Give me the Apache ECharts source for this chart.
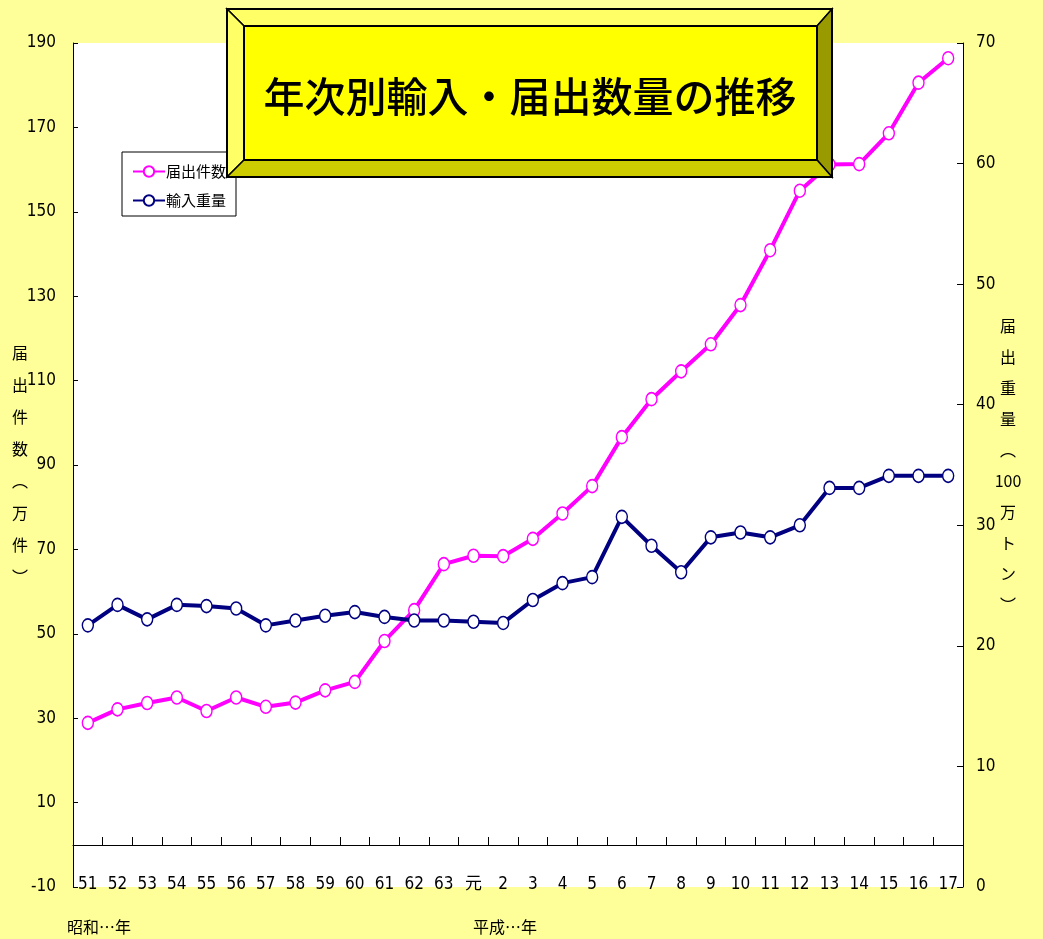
<!DOCTYPE html>
<html>
<head>
<meta charset="utf-8">
<script src="https://cdn.jsdelivr.net/npm/echarts@6/dist/echarts.min.js"></script>
<style>
html,body{margin:0;padding:0;background:#FFFF99;}
#chart{width:1043px;height:939px;}
</style>
</head>
<body>
<div id="chart"></div>
<script>
// ---- data ----
const years = ['51','52','53','54','55','56','57','58','59','60','61','62','63','元','2','3','4','5','6','7','8','9','10','11','12','13','14','15','16','17'];
const countName = '届出件数';
const weightName = '輸入重量';
// 届出件数 (万件)
const countValues = [28.9, 32.1, 33.6, 34.9, 31.7, 34.9, 32.7, 33.7, 36.6, 38.6, 48.3, 55.6, 66.5, 68.5, 68.4, 72.5, 78.5, 85.0, 96.6, 105.6, 112.2, 118.6, 127.9, 140.9, 155.0, 161.2, 161.3, 168.6, 180.6, 186.4];
// 輸入重量 (100万トン)
const weightValues = [21.7, 23.4, 22.2, 23.4, 23.3, 23.1, 21.7, 22.1, 22.5, 22.8, 22.4, 22.1, 22.1, 22.0, 21.9, 23.8, 25.2, 25.7, 30.7, 28.3, 26.1, 29.0, 29.4, 29.0, 30.0, 33.1, 33.1, 34.1, 34.1, 34.1];
const leftTicks = [-10, 10, 30, 50, 70, 90, 110, 130, 150, 170, 190];
const titleText = '年次別輸入・届出数量の推移';
const leftAxisName = '届\n出\n件\n数\n︵\n万\n件\n︶';
const rightAxisName = '届\n出\n重\n量\n︵\n100\n万\nト\nン\n︶';
const showaNote = '昭和…年';
const heiseiNote = '平成…年';

const NUM_FONT = "'Liberation Sans Narrow', 'DejaVu Sans Condensed', 'Noto Sans CJK JP', sans-serif";
const JP_FONT = "'Noto Sans CJK JP', sans-serif";

const chart = echarts.init(document.getElementById('chart'));

// layout
const gL = 73, gR = 963, gT = 43, gB = 887;
// title box geometry
const bx0 = 227, by0 = 9, bx1 = 832, by1 = 177;
const ix0 = 244, iy0 = 26, ix1 = 817, iy1 = 160;

const option = {
  backgroundColor: '#FFFF99',
  animation: false,
  grid: {
    left: gL, right: 1043 - gR, top: gT, bottom: 939 - gB,
    show: false
  },
  legend: {
    left: 122, top: 152,
    orient: 'vertical',
    backgroundColor: '#FFFFFF',
    borderColor: '#000000', borderWidth: 1,
    padding: [12, 10, 8, 10],
    itemWidth: 32, itemHeight: 13, itemGap: 14,
    textStyle: { fontFamily: JP_FONT, fontSize: 15, color: '#000', padding: [0, 0, 0, -4] },
    data: [countName, weightName]
  },
  xAxis: {
    type: 'category',
    data: years,
    boundaryGap: true,
    position: 'bottom',
    offset: -42,
    axisLine: { onZero: false, lineStyle: { color: '#000', width: 1 } },
    axisTick: { show: true, interval: 0, alignWithLabel: false, inside: true, length: 8, lineStyle: { color: '#000', width: 1 } },
    axisLabel: { interval: 0, margin: 31, color: '#000', fontFamily: NUM_FONT, fontSize: 17 }
  },
  yAxis: [
    {
      type: 'value', position: 'left',
      min: -10, max: 190,
      splitLine: { show: false },
      axisLine: { show: true, lineStyle: { color: '#000' } },
      axisTick: { show: true, inside: true, length: 5, customValues: leftTicks, lineStyle: { color: '#000' } },
      axisLabel: { margin: 17, color: '#000', fontFamily: NUM_FONT, fontSize: 17, customValues: leftTicks },
      name: leftAxisName,
      nameLocation: 'middle', nameRotate: 0, nameGap: 53, nameMoveOverlap: false,
      nameTextStyle: { fontFamily: JP_FONT, fontSize: 16, lineHeight: 32, color: '#000', align: 'center' }
    },
    {
      type: 'value', position: 'right',
      min: 0, max: 70, interval: 10,
      splitLine: { show: false },
      axisLine: { show: true, lineStyle: { color: '#000' } },
      axisTick: { show: true, inside: true, length: 6, lineStyle: { color: '#000' } },
      axisLabel: { margin: 13, color: '#000', fontFamily: NUM_FONT, fontSize: 17 },
      name: rightAxisName,
      nameLocation: 'middle', nameRotate: 0, nameGap: 45, nameMoveOverlap: false,
      nameTextStyle: { fontFamily: JP_FONT, fontSize: 16, lineHeight: 31, color: '#000', align: 'center' }
    }
  ],
  series: [
    {
      name: countName, type: 'line', yAxisIndex: 0,
      data: countValues,
      symbol: 'circle', symbolSize: [11, 13],
      lineStyle: { color: '#FF00FF', width: 4 },
      itemStyle: { color: '#FFFFFF', borderColor: '#FF00FF', borderWidth: 1.5 },
      z: 2
    },
    {
      name: weightName, type: 'line', yAxisIndex: 1,
      data: weightValues,
      symbol: 'circle', symbolSize: [11, 13],
      lineStyle: { color: '#000080', width: 4 },
      itemStyle: { color: '#FFFFFF', borderColor: '#000080', borderWidth: 1.5 },
      z: 3
    }
  ],
  graphic: [
    { type: 'rect', z: -10, silent: true, shape: { x: gL, y: gT, width: gR - gL, height: gB - gT }, style: { fill: '#FFFFFF' } },
    { type: 'polygon', z: 100, shape: { points: [[bx0,by0],[bx1,by0],[ix1,iy0],[ix0,iy0]] }, style: { fill: '#FFFF66', stroke: '#000', lineWidth: 1.5 } },
    { type: 'polygon', z: 100, shape: { points: [[bx0,by0],[ix0,iy0],[ix0,iy1],[bx0,by1]] }, style: { fill: '#FFFF66', stroke: '#000', lineWidth: 1.5 } },
    { type: 'polygon', z: 100, shape: { points: [[bx1,by0],[bx1,by1],[ix1,iy1],[ix1,iy0]] }, style: { fill: '#999900', stroke: '#000', lineWidth: 1.5 } },
    { type: 'polygon', z: 100, shape: { points: [[bx0,by1],[ix0,iy1],[ix1,iy1],[bx1,by1]] }, style: { fill: '#CCCC00', stroke: '#000', lineWidth: 1.5 } },
    { type: 'rect', z: 101, shape: { x: ix0, y: iy0, width: ix1 - ix0, height: iy1 - iy0 }, style: { fill: '#FFFF00', stroke: '#000', lineWidth: 2 } },
    { type: 'rect', z: 102, shape: { x: bx0, y: by0, width: bx1 - bx0, height: by1 - by0 }, style: { fill: 'none', stroke: '#000', lineWidth: 2 } },
    { type: 'text', z: 103, x: 530, y: 96, style: { text: titleText, font: "500 41px 'Noto Sans CJK JP', sans-serif", fill: '#000', align: 'center', verticalAlign: 'middle' } },
    { type: 'text', z: 103, x: 67, y: 927, style: { text: showaNote, font: "16px 'Noto Sans CJK JP', sans-serif", fill: '#000', align: 'left', verticalAlign: 'middle' } },
    { type: 'text', z: 103, x: 473, y: 927, style: { text: heiseiNote, font: "16px 'Noto Sans CJK JP', sans-serif", fill: '#000', align: 'left', verticalAlign: 'middle' } }
  ]
};
chart.setOption(option);
</script>
</body>
</html>
